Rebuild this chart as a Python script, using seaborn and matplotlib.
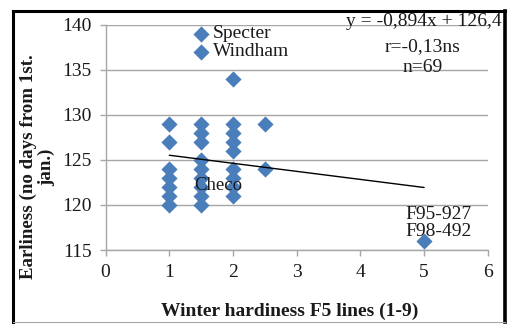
import matplotlib
matplotlib.use("Agg")
import matplotlib.pyplot as plt
from matplotlib.lines import Line2D
import seaborn as sns
import pandas as pd

# ---- data ----
x_vals = [1, 1, 1, 1, 1, 1, 1,
          1.5, 1.5, 1.5, 1.5, 1.5, 1.5, 1.5, 1.5, 1.5, 1.5, 1.5,
          2, 2, 2, 2, 2, 2, 2, 2, 2,
          2.5, 2.5,
          5]
y_vals = [129, 127, 124, 123, 122, 121, 120,
          139, 137, 129, 128, 127, 125, 124, 123, 122, 121, 120,
          134, 129, 128, 127, 126, 124, 123, 122, 121,
          129, 124,
          116]
trend_x = [1, 5]
trend_y = [125.506, 121.93]
point_labels = ["Specter", "Windham", "Checo", "F95-927", "F98-492"]
stats_lines = ["y = -0,894x + 126,4", "r=-0,13ns", "n=69"]
x_ticks = [0, 1, 2, 3, 4, 5, 6]
y_ticks = [115, 120, 125, 130, 135, 140]
x_label = "Winter hardiness F5 lines (1-9)"
y_label = "Earliness (no days from 1st.\njan.)"

df = pd.DataFrame({"x": x_vals, "y": y_vals})

sns.set_style("white")
plt.rcParams["font.family"] = ["Liberation Serif", "DejaVu Serif"]

W, H = 511, 324
fig = plt.figure(figsize=(W / 100, H / 100), dpi=100)
ax = fig.add_axes([105.6 / W, 1 - 250 / H, 382.2 / W, 225.5 / H])

grid_c = "#A6A6A6"
blue = "#4A7EBB"
txt_c = "#1a1a1a"

sns.scatterplot(data=df, x="x", y="y", marker="D", s=68, color=blue,
                linewidth=0, ax=ax, zorder=3, legend=False)
sns.lineplot(x=trend_x, y=trend_y, color="black", linewidth=1.0, ax=ax, zorder=4)

ax.set_xlim(0, 6)
ax.set_ylim(115, 140)
ax.set_xticks(x_ticks)
ax.set_yticks(y_ticks)
ax.set_xticklabels([str(t) for t in x_ticks])
ax.set_yticklabels([str(t) for t in y_ticks])
ax.yaxis.grid(True, color=grid_c, linewidth=1.0)
ax.xaxis.grid(False)
ax.set_axisbelow(True)
for s in ["top", "right"]:
    ax.spines[s].set_visible(False)
for s in ["left", "bottom"]:
    ax.spines[s].set_color(grid_c)
    ax.spines[s].set_linewidth(1.0)
ax.tick_params(axis="both", direction="out", length=4, width=1.0, color=grid_c,
               labelsize=14, labelcolor=txt_c, pad=6)
ax.tick_params(axis="both", which="both", bottom=True, left=True)
ax.set_xlabel("")
ax.set_ylabel("")

fs = 14
ax.text(1.686, 139.0, point_labels[0], fontsize=fs, color=txt_c, ha="left", va="center", zorder=5)
ax.text(1.686, 137.0, point_labels[1], fontsize=fs, color=txt_c, ha="left", va="center", zorder=5)
ax.text(1.39, 122.2, point_labels[2], fontsize=13.5, color=txt_c, ha="left", va="center", zorder=5)
ax.text(5.22, 118.9, point_labels[3], fontsize=fs, color=txt_c, ha="center", va="center", zorder=5)
ax.text(5.22, 117.0, point_labels[4], fontsize=fs, color=txt_c, ha="center", va="center", zorder=5)

ax.text(5.0, 140.3, stats_lines[0], fontsize=fs, color=txt_c, ha="center", va="center", zorder=5)
ax.text(4.98, 137.5, stats_lines[1], fontsize=fs, color=txt_c, ha="center", va="center", zorder=5)
ax.text(4.98, 135.2, stats_lines[2], fontsize=fs, color=txt_c, ha="center", va="center", zorder=5)

fig.text(290 / W, 1 - 311 / H, x_label, fontsize=14, fontweight="bold",
         color=txt_c, ha="center", va="center")
fig.text(37.5 / W, 1 - 167 / H, y_label, fontsize=13.6, fontweight="bold",
         color=txt_c, ha="center", va="center", rotation=90,
         multialignment="center", linespacing=1.05)

# chart border
def fl(x0, y0, x1, y1, c, lw):
    fig.add_artist(Line2D([x0 / W, x1 / W], [1 - y0 / H, 1 - y1 / H],
                          transform=fig.transFigure, color=c, linewidth=lw,
                          solid_capstyle="projecting"))

fl(12.5, 10.5, 504.5, 10.5, "black", 2.2)
fl(12.5, 10.5, 12.5, 322, "black", 2.2)
fl(504.5, 10.5, 504.5, 322, "black", 2.6)
fl(12.5, 322, 504.5, 322, grid_c, 0.8)

fig.savefig("out.png", dpi=100)
